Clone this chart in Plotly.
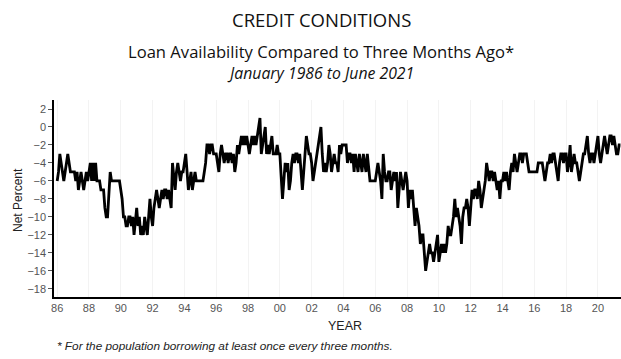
import plotly.graph_objects as go

start_year = 1986
y1986 = [-6, -5, -3, -4, -5, -6, -5, -4, -3, -4, -5, -5]
y1987 = [-5, -5, -6, -5, -7, -6, -5, -6, -7, -6, -5, -6]
y1988 = [-5, -4, -6, -4, -6, -4, -6, -6, -6, -7, -7, -7]
y1989 = [-9, -10, -10, -8, -5, -6, -6, -6, -6, -6, -6, -6]
y1990 = [-7, -8, -10, -10, -11, -11, -10, -10, -11, -10, -12, -10]
y1991 = [-9, -11, -10, -12, -11, -12, -10, -11, -12, -10, -8, -10]
y1992 = [-11, -9, -8, -7, -8, -9, -8, -7, -8, -7, -7, -8]
y1993 = [-7, -8, -9, -4, -6, -7, -5, -4, -5, -6, -5, -5]
y1994 = [-4, -3, -5, -7, -6, -5, -7, -6, -5, -6, -6, -6]
y1995 = [-6, -6, -6, -5, -4, -2, -2, -3, -2, -2, -3, -3]
y1996 = [-3, -4, -5, -3, -2, -3, -4, -3, -3, -4, -3, -3]
y1997 = [-4, -3, -5, -4, -2, -3, -2, -1, -2, -1, -2, -1]
y1998 = [-2, -3, -2, -1, -2, -1, -2, -1, 0, 1, -3, -2]
y1999 = [-1, 0, -3, -2, -3, -2, -1, -3, -3, -3, -2, -3]
y2000 = [-3, -5, -8, -6, -4, -5, -4, -7, -6, -4, -3, -4]
y2001 = [-3, -3, -4, -3, -5, -7, -5, -3, -1, -2, -3, -3]
y2002 = [-4, -6, -5, -4, -3, -2, -1, 0, -3, -5, -4, -5]
y2003 = [-4, -2, -3, -5, -4, -3, -4, -4, -5, -2, -3, -2]
y2004 = [-2, -2, -2, -4, -3, -3, -4, -3, -5, -3, -4, -5]
y2005 = [-3, -4, -5, -3, -4, -5, -3, -5, -6, -6, -6, -6]
y2006 = [-6, -5, -4, -5, -6, -8, -3, -5, -6, -6, -5, -5]
y2007 = [-7, -6, -5, -6, -5, -9, -7, -5, -6, -7, -6, -5]
y2008 = [-6, -9, -7, -8, -7, -9, -11, -9, -10, -11, -13, -12]
y2009 = [-12, -14, -16, -15, -14, -13, -14, -14, -15, -14, -13, -12]
y2010 = [-15, -14, -13, -14, -13, -14, -13, -11, -12, -12, -11, -10]
y2011 = [-8, -10, -9, -10, -11, -13, -10, -9, -9, -8, -9, -11]
y2012 = [-9, -7, -8, -7, -7, -8, -6, -7, -9, -8, -7, -6]
y2013 = [-4, -5, -6, -5, -5, -6, -5, -6, -7, -6, -8, -6]
y2014 = [-6, -5, -6, -5, -6, -7, -5, -4, -5, -3, -4, -5]
y2015 = [-4, -3, -3, -4, -3, -3, -3, -4, -5, -5, -5, -5]
y2016 = [-5, -5, -5, -4, -4, -4, -4, -5, -6, -5, -4, -4]
y2017 = [-3, -4, -3, -3, -4, -5, -6, -4, -3, -3, -4, -3]
y2018 = [-3, -5, -4, -2, -5, -4, -3, -4, -4, -5, -6, -5]
y2019 = [-4, -3, -3, -2, -1, -3, -4, -3, -3, -4, -3, -2]
y2020 = [-1, -3, -4, -3, -2, -1, -2, -3, -2, -1, -1, -2]
y2021 = [-1, -2, -3, -3, -2, -2]

years = [y1986, y1987, y1988, y1989, y1990, y1991, y1992, y1993, y1994, y1995,
         y1996, y1997, y1998, y1999, y2000, y2001, y2002, y2003, y2004, y2005,
         y2006, y2007, y2008, y2009, y2010, y2011, y2012, y2013, y2014, y2015,
         y2016, y2017, y2018, y2019, y2020, y2021]

values = [v for yr in years for v in yr]
dates = [start_year + i / 12 for i in range(len(values))]

x_tick_vals = list(range(1986, 2021, 2))
x_tick_text = ["86", "88", "90", "92", "94", "96", "98", "00", "02", "04",
               "06", "08", "10", "12", "14", "16", "18", "20"]
y_tick_vals = [2, 0, -2, -4, -6, -8, -10, -12, -14, -16, -18]

fig = go.Figure()
fig.add_trace(go.Scatter(x=dates, y=values, mode="lines",
                         line=dict(color="black", width=2.8), hoverinfo="skip"))

plot_l, plot_r, plot_t, plot_b = 54, 621, 100, 297
W, H = 621, 359

tickfont = dict(family="Liberation Sans, Arial", size=11, color="#555555")
fig.update_layout(
    width=W, height=H,
    margin=dict(l=plot_l, r=W - plot_r, t=plot_t, b=H - plot_b),
    paper_bgcolor="white", plot_bgcolor="white",
    showlegend=False,
    xaxis=dict(range=[1985.8, 2021.45], tickvals=x_tick_vals, ticktext=x_tick_text,
               showline=True, linecolor="black", linewidth=1.5,
               showgrid=True, gridcolor="#f3f3f3", gridwidth=1,
               zeroline=False, ticks="", tickfont=tickfont),
    yaxis=dict(range=[-18.9, 3.0], tickvals=y_tick_vals,
               showline=True, linecolor="black", linewidth=1.5,
               showgrid=False, zeroline=False,
               ticks="outside", ticklen=4, tickcolor="#555555", tickwidth=1,
               tickfont=tickfont),
)

pw, ph = plot_r - plot_l, plot_b - plot_t
texts = [
    ("CREDIT CONDITIONS", 321, 20, "center", 0, dict(family="Open Sans", size=18.5, color="#111")),
    ("Loan Availability Compared to Three Months Ago*", 321, 52, "center", 0,
     dict(family="Open Sans", size=16.6, color="#111")),
    ("<i>January 1986 to June 2021</i>", 320, 73, "center", 0,
     dict(family="Open Sans", size=15.8, color="#111")),
    ("YEAR", 345, 326, "center", 0, dict(family="Liberation Sans, Arial", size=12.5, color="#222")),
    ("<i>* For the population borrowing at least once every three months.</i>", 55, 346, "left", 0,
     dict(family="Liberation Sans, Arial", size=11.8, color="#222")),
    ("Net Percent", 18, 200, "center", -90, dict(family="Liberation Sans, Arial", size=12, color="#222")),
]
for text, px, py, xa, ang, font in texts:
    fig.add_annotation(xref="paper", yref="paper",
                       x=(px - plot_l) / pw, y=(plot_b - py) / ph,
                       text=text, showarrow=False, font=font, textangle=ang,
                       xanchor=xa, yanchor="middle")

fig.write_html("out.html", config={"displayModeBar": False},
               post_script="document.body.style.margin='0';")
